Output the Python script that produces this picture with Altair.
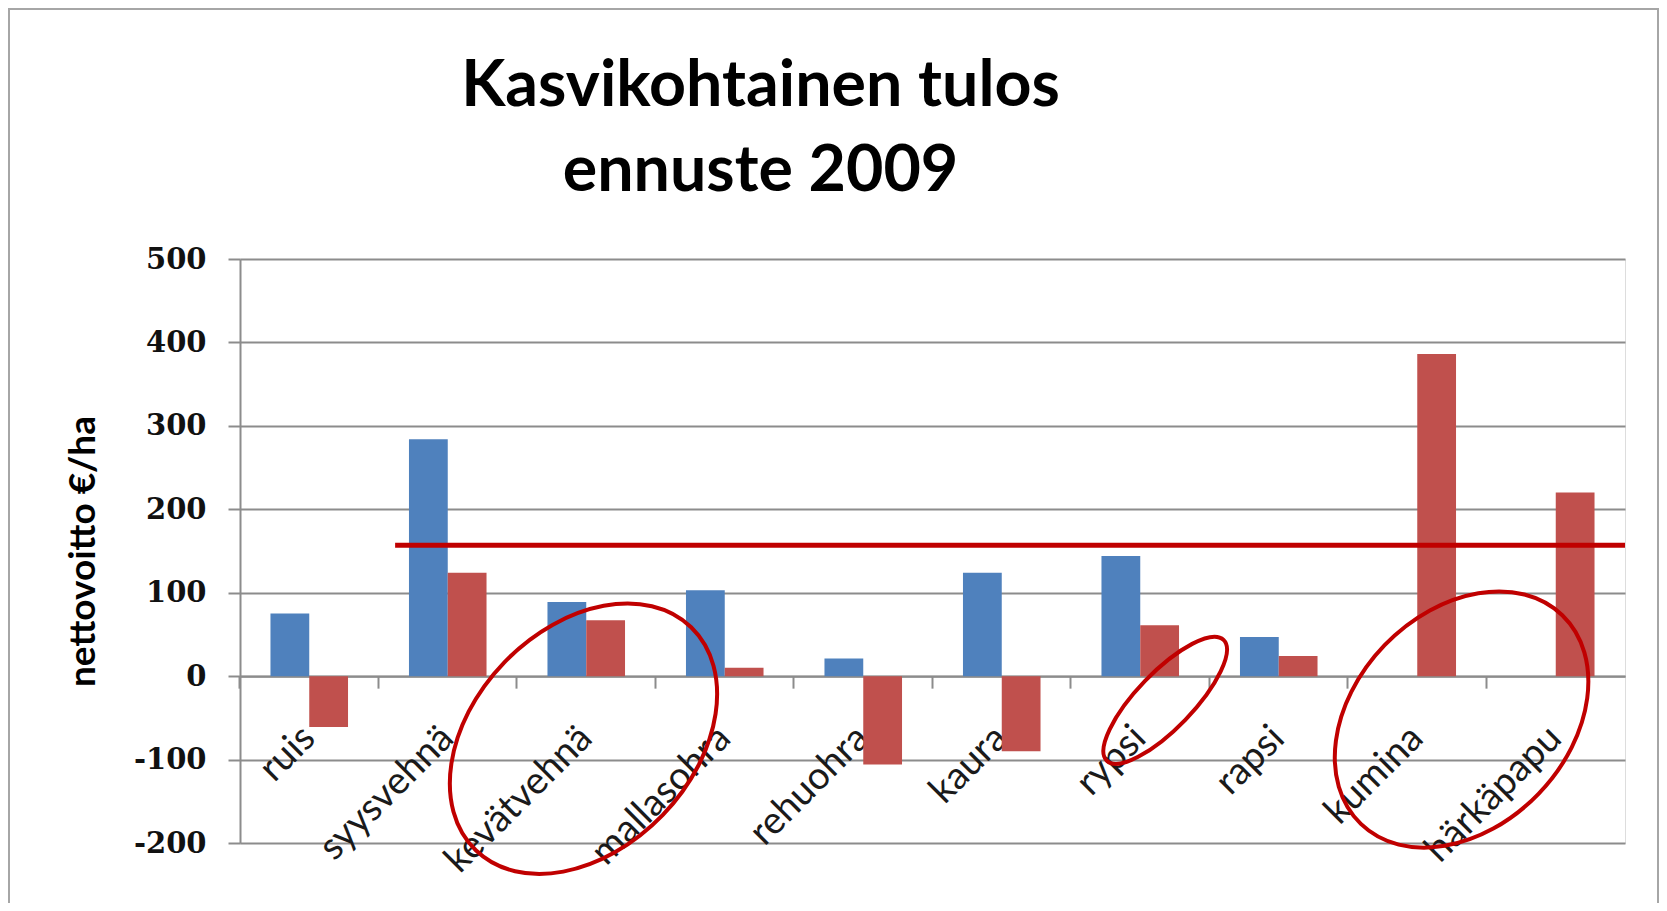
import altair as alt
import pandas as pd

# ---------------- data ----------------
categories = ["ruis", "syysvehnä", "kevätvehnä", "mallasohra", "rehuohra",
              "kaura", "rypsi", "rapsi", "kumina", "härkäpapu"]
series_names = ["Sarja1", "Sarja2"]
blue_values = [75, 284, 89, 103, 21, 124, 144, 47, None, None]
red_values = [-61, 124, 67, 10, -106, -90, 61, 24, 386, 220]
y_ticks = [-200, -100, 0, 100, 200, 300, 400, 500]

# red horizontal reference line (x in category-index units)
ref_line_value = [157]
ref_line_start = [1.12]
ref_line_end = [10.0]

# red ellipse annotations: centre (category index, value), semi-axes, tilt
ell_x = [2.48, 6.68, 8.82]
ell_y = [-75, -29, -52]
ell_a = [155, 84, 145]
ell_b = [110, 28, 107]
ell_tilt = [46, 46, 46]

BLUE = "#4F81BD"
RED = "#C0504D"
DARKRED = "#C00000"
GRID = "#8c8c8c"

# ---------------- tables ----------------
rows = []
for c, b, r in zip(categories, blue_values, red_values):
    if b is not None:
        rows.append({"kasvi": c, "sarja": series_names[0], "arvo": b})
    if r is not None:
        rows.append({"kasvi": c, "sarja": series_names[1], "arvo": r})
bars_df = pd.DataFrame(rows)

ref_df = pd.DataFrame({"x": ref_line_start, "x2": ref_line_end, "arvo": ref_line_value})

k = 0.5523
def ellipse_path(ratio):
    r = ratio
    return (f"M 1 0 C 1 {k*r:.4f} {k:.4f} {r:.4f} 0 {r:.4f} "
            f"C {-k:.4f} {r:.4f} -1 {k*r:.4f} -1 0 "
            f"C -1 {-k*r:.4f} {-k:.4f} {-r:.4f} 0 {-r:.4f} "
            f"C {k:.4f} {-r:.4f} 1 {-k*r:.4f} 1 0 Z")

ell_df = pd.DataFrame({
    "x": ell_x,
    "arvo": ell_y,
    "shape": [ellipse_path(b / a) for a, b in zip(ell_a, ell_b)],
    "size": [(2 * a) ** 2 for a in ell_a],
    "angle": [180 - t for t in ell_tilt],
})

W, H = 1385, 584
PAD_IN = 0.44
tick_band_pos = -(PAD_IN / 2) / (1 - PAD_IN)

y_scale = alt.Scale(domain=[-200, 500], nice=False, zero=False)
idx_scale = alt.Scale(domain=[0, len(categories)], nice=False, zero=False)
y_title = "nettovoitto €/ha"

y_axis = alt.Axis(
    values=y_ticks, grid=True, gridColor=GRID, gridWidth=2,
    tickSize=12, tickColor=GRID, tickWidth=2,
    domainColor=GRID, domainWidth=2,
    labelFont="DejaVu Serif", labelFontWeight="bold", labelFontSize=29,
    labelColor="#111111", labelPadding=22,
    labelExpr="datum.value + ''",
    titleFont="Lato", titleFontWeight="bold", titleFontSize=37, titleColor="black",
    titleX=-157, titleY=H / 2, titleAngle=270, titleBaseline="middle", titleAlign="center",
)

x_axis = alt.Axis(
    title=None, bandPosition=tick_band_pos, labelOffset=0,
    labelAngle=315, labelAlign="right", labelBaseline="middle",
    labelFont="Lato", labelFontSize=38, labelColor="#1a1a1a", labelPadding=44,
    labelOverlap=False, labelLimit=1000,
    tickSize=12, tickColor=GRID, tickWidth=2,
    domainColor=GRID, domainWidth=2, offset=-(200 / 700) * H, grid=False,
)

frame = alt.Chart(pd.DataFrame({"f": [0]})).mark_rect(
    fill="transparent", stroke="#a6a6a6", strokeWidth=2
).encode(
    x=alt.value(-231), x2=alt.value(W + 33), y=alt.value(-250), y2=alt.value(H + 120)
)

bars = alt.Chart(bars_df).mark_bar().encode(
    x=alt.X("kasvi:N", sort=categories,
            scale=alt.Scale(domain=categories, paddingInner=PAD_IN, paddingOuter=PAD_IN / 2),
            axis=x_axis),
    xOffset=alt.XOffset("sarja:N", scale=alt.Scale(domain=series_names, paddingInner=0, paddingOuter=0)),
    y=alt.Y("arvo:Q", scale=y_scale, axis=y_axis, title=y_title),
    color=alt.Color("sarja:N", scale=alt.Scale(domain=series_names, range=[BLUE, RED]), legend=None),
)

rule = alt.Chart(ref_df).mark_rule(color=DARKRED, strokeWidth=5).encode(
    x=alt.X("x:Q", scale=idx_scale, axis=None),
    x2="x2:Q",
    y=alt.Y("arvo:Q", scale=y_scale, title=y_title),
)

ellipses = alt.Chart(ell_df).mark_point(filled=False, color=DARKRED, strokeWidth=4, opacity=1).encode(
    x=alt.X("x:Q", scale=idx_scale, axis=None),
    y=alt.Y("arvo:Q", scale=y_scale, title=y_title),
    shape=alt.Shape("shape:N", scale=None),
    size=alt.Size("size:Q", scale=None),
    angle=alt.Angle("angle:Q", scale=None),
)

chart = alt.layer(frame, bars, rule, ellipses).resolve_scale(x="independent").properties(
    width=W, height=H,
    autosize=alt.AutoSizeParams(type="none"),
    padding={"left": 232, "top": 251, "right": 34, "bottom": 60},
    title=alt.TitleParams(
        text=["Kasvikohtainen tulos", "ennuste 2009"],
        font="Lato", fontSize=64.5, fontWeight="bold", color="black",
        anchor="middle", dx=-172, lineHeight=85, offset=-196,
    ),
).configure_view(strokeWidth=0).configure(background="white")

chart.save("out.html", embed_options={"renderer": "svg", "actions": False})
